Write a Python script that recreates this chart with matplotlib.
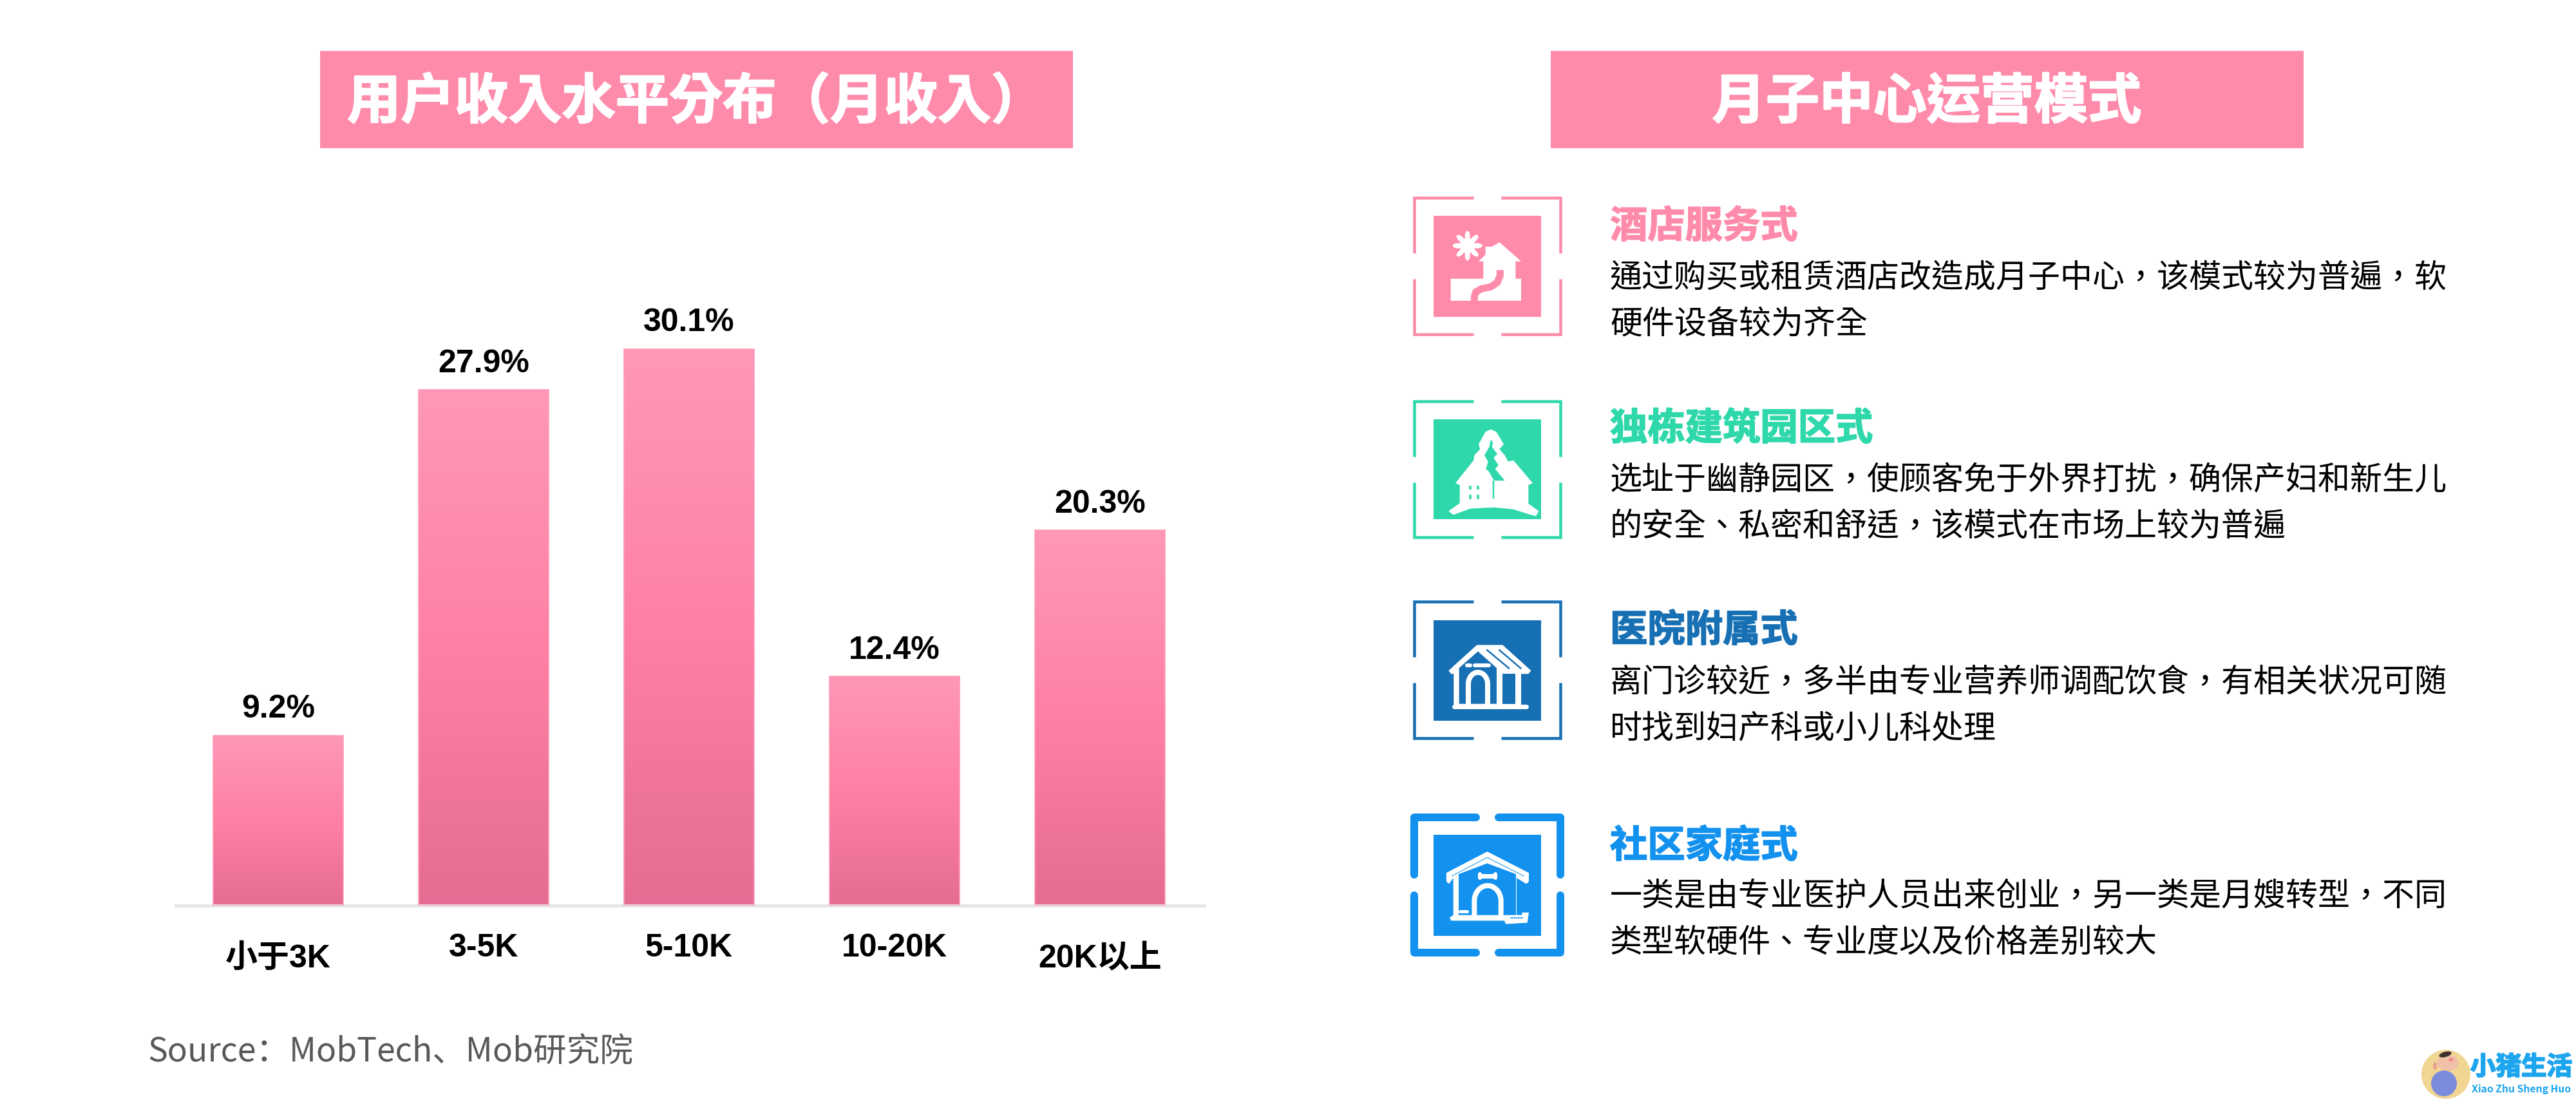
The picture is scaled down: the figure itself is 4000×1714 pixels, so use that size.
import numpy as np
import matplotlib
matplotlib.use("Agg")
import matplotlib.pyplot as plt
import matplotlib.patheffects as pe
from matplotlib.colors import LinearSegmentedColormap
from matplotlib.patches import Rectangle, Polygon, Ellipse, Circle

# chart data
categories = ['小于3K', '3-5K', '5-10K', '10-20K', '20K以上']
shares = [9.2, 27.9, 30.1, 12.4, 20.3]
value_labels = ['9.2%', '27.9%', '30.1%', '12.4%', '20.3%']

# right panel text
headings = ['酒店服务式', '独栋建筑园区式', '医院附属式', '社区家庭式']
bodies = [
    ['通过购买或租赁酒店改造成月子中心，该模式较为普遍，软', '硬件设备较为齐全'],
    ['选址于幽静园区，使顾客免于外界打扰，确保产妇和新生儿', '的安全、私密和舒适，该模式在市场上较为普遍'],
    ['离门诊较近，多半由专业营养师调配饮食，有相关状况可随', '时找到妇产科或小儿科处理'],
    ['一类是由专业医护人员出来创业，另一类是月嫂转型，不同', '类型软硬件、专业度以及价格差别较大'],
]
colors = ['#FF8BAB', '#2ED8AB', '#1870B4', '#1291EE']

W, H = 4000, 1714
CJK = ['Noto Sans CJK SC', 'DejaVu Sans']
# the TC cut keeps full-width commas and brackets centred, as in the original
CJK_TC = ['Noto Sans CJK TC', 'DejaVu Sans']
LATIN = ['Liberation Sans', 'Noto Sans CJK SC']
PINK = colors[0]

fig = plt.figure(figsize=(W / 100, H / 100), dpi=100, facecolor='white')

# overlay in pixel coordinates for the decoration
bg = fig.add_axes([0, 0, 1, 1])
bg.set_xlim(0, W)
bg.set_ylim(H, 0)
bg.axis('off')


def px(lw):
    return lw * 0.72


# title boxes
for x0, title in [(497, '用户收入水平分布（月收入）'), (2408, '月子中心运营模式')]:
    bg.add_patch(Rectangle((x0, 79), 1169, 151, color=PINK, lw=0))
    bg.text(x0 + 584, 159, title, color='white', fontsize=60, fontweight=900, family=CJK_TC, ha='center', va='center',
            path_effects=[pe.withStroke(linewidth=1.6, foreground='white')])

# bar chart
ax = fig.add_axes([273 / W, (H - 1406) / H, 1597 / W, 1005 / H])
ax.patch.set_alpha(0)
x = np.arange(len(categories))
bars = ax.bar(x, shares, width=0.633, facecolor='none', edgecolor='#FF9DB8', linewidth=1.2, zorder=3)
grad = LinearSegmentedColormap.from_list('bar', ['#FE98B6', '#FF80A5', '#E56C92'])
for bar in bars:
    im = ax.imshow(np.linspace(0, 1, 256).reshape(-1, 1), cmap=grad, aspect='auto', zorder=2,
                   extent=[bar.get_x(), bar.get_x() + bar.get_width(), 0, bar.get_height()])
    im.set_clip_path(bar)
ax.set_xlim(-0.498, 4.508)
ax.set_ylim(0, 35)
ax.set_yticks([])
ax.set_xticks(x)
ax.set_xticklabels(categories, fontsize=36, fontweight='bold', family=LATIN)
ax.tick_params(axis='x', length=0, pad=31)
for tick, cat in zip(ax.xaxis.get_major_ticks(), categories):
    if not cat.replace('-', '').replace('K', '').isdigit():
        tick.set_pad(43)
for side in ['top', 'left', 'right']:
    ax.spines[side].set_visible(False)
ax.spines['bottom'].set_color('#E7E6E6')
ax.spines['bottom'].set_linewidth(px(5))
ax.bar_label(bars, labels=value_labels, padding=12.5, fontsize=36, fontweight='bold', family=LATIN)

# source line
bg.text(229, 1634, 'Source：MobTech、Mob研究院', color='#595959', fontsize=37.2, family=CJK, va='center')


def frame(x0, y0, x1, y1, gx0, gx1, gy0, gy1, color, lw, cap='butt'):
    # four corner brackets around an icon
    for sx, gx, sy, gy in [(x0, gx0, y0, gy0), (x1, gx1, y0, gy0), (x0, gx0, y1, gy1), (x1, gx1, y1, gy1)]:
        bg.plot([gx, sx, sx], [sy, sy, gy], color=color, lw=px(lw), solid_capstyle=cap,
                solid_joinstyle='round' if cap == 'round' else 'miter')


frame(2196, 307, 2423, 519, 2288, 2331, 393, 433, colors[0], 4.5)
frame(2196, 623, 2423, 834, 2288, 2331, 709, 749, colors[1], 4.5)
frame(2196, 934, 2423, 1146, 2288, 2331, 1020, 1060, colors[2], 4.5)
frame(2196, 1269, 2423, 1479, 2292, 2327, 1358, 1390, colors[3], 12, cap='round')
inner = [(335, 491.5), (651, 806), (962.5, 1118.5), (1296, 1452.5)]
for (y0, y1), c in zip(inner, colors):
    bg.add_patch(Rectangle((2226, y0), 167, y1 - y0, color=c, lw=0))


def zoom_pts(pts, ox, oy, sy):
    # icon outlines were measured on a zoomed crop
    return [(ox + a / 3, oy + b / sy) for a, b in pts]


def poly(pts, color, ox, oy, sy):
    bg.add_patch(Polygon(zoom_pts(pts, ox, oy, sy), closed=True, color=color, lw=0))


def stroke(pts, color, lw, ox, oy, sy, cap='round'):
    p = np.array(zoom_pts(pts, ox, oy, sy))
    bg.plot(p[:, 0], p[:, 1], color=color, lw=px(lw), solid_capstyle=cap, solid_joinstyle='round')


# icon 1: house with a path and flower
o1 = (2150, 280, 2.6)
poly([(438, 327), (470, 300), (470, 268), (500, 268), (535, 250), (636, 327), (610, 327), (610, 397),
      (636, 397), (636, 486), (308, 486), (308, 397), (460, 397), (460, 327)], 'white', *o1)
stroke([(538, 362), (538, 385), (525, 412), (495, 430), (450, 438), (425, 450), (418, 470), (418, 490)],
       colors[0], 11, *o1, cap='butt')
for a in np.arange(8) * 45:
    r = np.radians(a)
    bg.add_patch(Ellipse((2278.7 + 15 * np.cos(r), 381.5 + 15 * np.sin(r)), 16, 8, angle=a, color='white', lw=0))
bg.add_patch(Circle((2278.7, 381.5), 12, color='white', lw=0))

# icon 2: house under a tree
o2 = (2150, 280, 2.6)
poly([(495, 1005), (520, 1015), (555, 1065), (535, 1085), (560, 1110), (575, 1135), (600, 1130), (690, 1222),
      (670, 1230), (670, 1305), (718, 1335), (705, 1355), (680, 1350), (600, 1328), (510, 1320), (400, 1325),
      (320, 1350), (298, 1335), (350, 1303), (350, 1230), (330, 1222), (415, 1130), (418, 1110), (445, 1085),
      (438, 1065), (470, 1015)], 'white', *o2)
poly([(495, 1045), (505, 1060), (500, 1075), (525, 1105), (508, 1120), (530, 1150), (515, 1165), (560, 1212),
      (510, 1212), (485, 1175), (472, 1165), (482, 1135), (465, 1110), (488, 1075)], colors[1], *o2)
stroke([(508, 1212), (508, 1285)], colors[1], 2.5, *o2, cap='butt')
for a, b in [(400, 1240), (435, 1240), (400, 1278), (435, 1278)]:
    stroke([(a, b - 8), (a, b + 8)], colors[1], 3.5, *o2, cap='butt')

# arch used by both dog houses
t = np.linspace(np.pi, 0, 30)


def arch(cx, rx, ytop, ybase, ry):
    left = [(cx - rx, ybase)]
    top = [(cx + rx * np.cos(a), ytop + ry - ry * np.sin(a)) for a in t]
    return left + top + [(cx + rx, ybase)]


# icon 3: hospital
o3 = (2150, 900, 2.516)
poly([(298, 355), (430, 255), (550, 255), (682, 355), (670, 368), (636, 368), (636, 490), (322, 490), (322, 368),
      (310, 368)], 'white', *o3)
poly([(347, 485), (347, 345), (435, 280), (522, 345), (522, 485)], colors[2], *o3)
poly([(550, 368), (608, 368), (608, 485), (550, 485)], colors[2], *o3)
stroke(arch(435, 45, 362, 487, 45), 'white', 8, *o3, cap='butt')
stroke([(325, 495), (660, 495)], 'white', 7, *o3)
stroke([(385, 335), (400, 335)], 'white', 6, *o3)
stroke([(420, 335), (485, 335)], 'white', 6, *o3)
stroke([(475, 273), (582, 348)], colors[2], 2.5, *o3, cap='butt')
stroke([(532, 273), (637, 348)], colors[2], 2.5, *o3, cap='butt')

# icon 4: community home
o4 = (2150, 900, 2.516)
poly([(288, 1145), (478, 1062), (672, 1145), (672, 1180), (660, 1188), (615, 1165), (615, 1310), (640, 1310),
      (640, 1300), (672, 1300), (665, 1340), (565, 1345), (558, 1332), (310, 1332), (303, 1320), (320, 1310),
      (320, 1165), (300, 1188), (288, 1180)], 'white', *o4)
poly([(345, 1310), (345, 1150), (478, 1108), (612, 1150), (612, 1310)], colors[3], *o4)
stroke(arch(480, 62, 1195, 1312, 60), 'white', 8, *o4, cap='butt')
stroke([(312, 1158), (478, 1085), (650, 1158)], colors[3], 1, *o4, cap='butt')
stroke([(450, 1158), (510, 1158)], 'white', 7, *o4)
for a in (445, 515):
    stroke([(a, 1150), (a, 1166)], 'white', 6, *o4)
stroke([(350, 1295), (385, 1295)], 'white', 5, *o4)
stroke([(585, 1322), (645, 1322)], colors[3], 1.5, *o4, cap='butt')

# right panel text
head_y = [352, 666, 979, 1314]
body_y = [(432.5, 504), (746, 818), (1060, 1131.5), (1392, 1463)]
for name, lines, c, hy, by in zip(headings, bodies, colors, head_y, body_y):
    bg.text(2500, hy, name, color=c, fontsize=42, fontweight=900, family=CJK, va='center',
            path_effects=[pe.withStroke(linewidth=1.2, foreground=c)])
    for line, ly in zip(lines, by):
        bg.text(2500, ly, line, color='black', fontsize=36, family=CJK_TC, va='center')

# logo
bg.add_patch(Circle((3798, 1668), 38, color='#F1D592', lw=0))
bg.add_patch(Circle((3795, 1682), 20, color='#7C8CDC', lw=0))
bg.add_patch(Ellipse((3801, 1650), 34, 24, color='#F2BFA8', lw=0))
bg.add_patch(Ellipse((3797, 1637), 20, 8, angle=-15, color='#3E322C', lw=0))
bg.add_patch(Ellipse((3806, 1645), 8, 5, color='#F08C8C', lw=0))
bg.add_patch(Ellipse((3781, 1655), 6, 12, color='#E8A090', lw=0))
bg.text(3915, 1657, '小猪生活', color='#1DA5EE', fontsize=28.5, fontweight=900, family=CJK, ha='center', va='center',
        path_effects=[pe.withStroke(linewidth=1.5, foreground='#1DA5EE')])
bg.text(3915, 1691, 'Xiao Zhu Sheng Huo', color='#1DA5EE', fontsize=11.3, fontweight='bold', family=CJK, ha='center', va='center')

fig.savefig('out.png', dpi=100)
plt.close(fig)
